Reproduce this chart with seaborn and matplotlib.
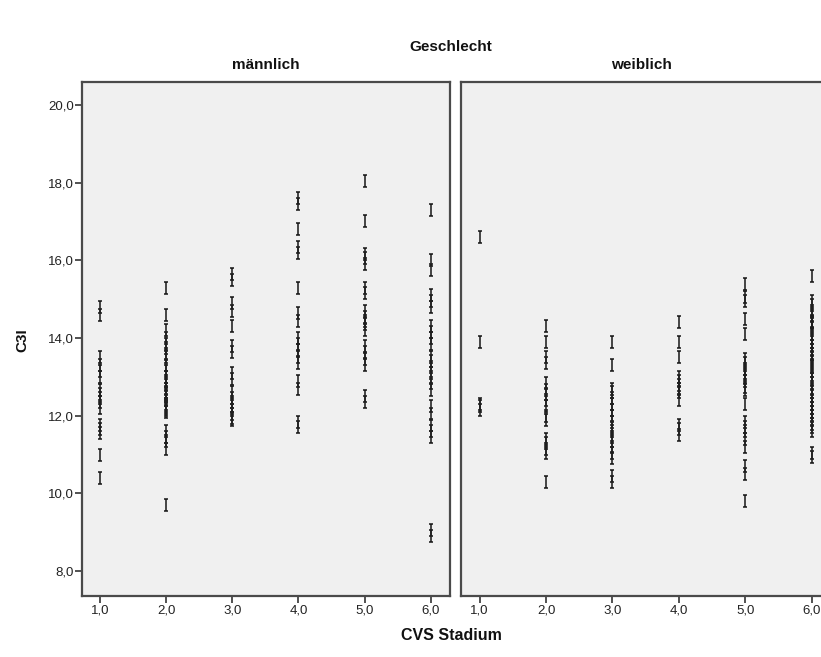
import numpy as np
import pandas as pd
import matplotlib
matplotlib.use("Agg")
import matplotlib.pyplot as plt
from matplotlib.path import Path
from matplotlib.ticker import FuncFormatter
import seaborn as sns

# ---------------- data ----------------
stages = [1.0, 2.0, 3.0, 4.0, 5.0, 6.0]
genders = ["männlich", "weiblich"]

male_1 = [14.8, 14.6, 13.5, 13.3, 13.15, 13.0, 12.65, 12.55, 12.45, 12.35, 12.2,
          11.75, 11.65, 11.55, 11.0, 10.4]
male_2 = [15.3, 14.6, 14.2, 14.0, 13.85, 13.75, 13.6, 13.5, 13.3, 13.15, 13.0, 12.9,
          12.8, 12.7, 12.6, 12.55, 12.5, 12.4, 12.3, 12.25, 12.2, 12.15, 12.1,
          11.6, 11.45, 11.35, 11.15, 9.7]
male_3 = [15.65, 15.5, 14.9, 14.7, 14.3, 13.8, 13.65, 13.1, 12.95, 12.6, 12.45,
          12.35, 12.25, 12.15, 12.05, 11.95, 11.9]
male_4 = [17.6, 17.45, 16.8, 16.35, 16.2, 15.3, 14.65, 14.45, 14.0, 13.85, 13.7,
          13.5, 13.35, 12.9, 12.7, 11.85, 11.7]
male_5 = [18.05, 17.0, 16.15, 16.05, 15.9, 15.3, 15.15, 14.7, 14.55, 14.45, 14.35,
          14.2, 13.8, 13.65, 13.45, 13.3, 12.5, 12.35]
male_6 = [17.3, 16.0, 15.75, 15.1, 14.95, 14.8, 14.3, 14.15, 14.0, 13.85, 13.5,
          13.4, 13.25, 13.1, 13.0, 12.85, 12.65, 12.25, 12.05, 11.75, 11.6,
          11.45, 9.05, 8.9]

female_1 = [16.6, 13.9, 12.3, 12.25, 12.15]
female_2 = [14.3, 13.9, 13.5, 13.35, 12.85, 12.65, 12.55, 12.4, 12.25, 12.0, 11.9,
            11.4, 11.3, 11.15, 11.05, 10.3]
female_3 = [13.9, 13.3, 12.7, 12.6, 12.45, 12.3, 12.15, 12.0, 11.85, 11.7, 11.6,
            11.45, 11.35, 11.2, 11.05, 10.9, 10.45, 10.3]
female_4 = [14.4, 13.9, 13.5, 13.0, 12.9, 12.8, 12.7, 12.6, 12.4, 11.75, 11.65,
            11.5]
female_5 = [15.4, 15.05, 14.95, 14.5, 14.1, 13.45, 13.35, 13.2, 13.1, 13.0, 12.9,
            12.75, 12.65, 12.3, 11.85, 11.7, 11.6, 11.4, 11.2, 10.7, 10.5, 9.8]
female_6 = [15.6, 14.95, 14.85, 14.7, 14.6, 14.45, 14.4, 14.35, 14.25, 14.1, 14.0,
            13.9, 13.8, 13.7, 13.6, 13.5, 13.4, 13.3, 13.25, 13.15, 13.05, 12.95,
            12.85, 12.7, 12.6, 12.5, 12.4, 12.3, 12.2, 12.1, 12.0, 11.9, 11.8,
            11.7, 11.6, 11.05, 10.95]

y_ticks = [8.0, 10.0, 12.0, 14.0, 16.0, 18.0, 20.0]

male_values = [male_1, male_2, male_3, male_4, male_5, male_6]
female_values = [female_1, female_2, female_3, female_4, female_5, female_6]

rows = []
for g, groups in zip(genders, [male_values, female_values]):
    for st, vals in zip(stages, groups):
        for v in vals:
            rows.append({"Geschlecht": g, "CVS Stadium": st, "C3I": v})
df = pd.DataFrame(rows)

# ---------------- style ----------------
sns.set_theme(style="white")
plt.rcParams["font.family"] = ["Liberation Sans", "DejaVu Sans"]

W, H = 821, 657
fig = plt.figure(figsize=(W / 100, H / 100), dpi=100)
fig.patch.set_facecolor("white")

# I-beam marker
ibeam = Path(
    [(0, -1), (0, 1), (-0.42, 1), (0.42, 1), (-0.42, -1), (0.42, -1)],
    [Path.MOVETO, Path.LINETO, Path.MOVETO, Path.LINETO, Path.MOVETO, Path.LINETO],
)

def px(x0, y0, x1, y1):
    return [x0 / W, 1 - y1 / H, (x1 - x0) / W, (y1 - y0) / H]

ax_m = fig.add_axes(px(82, 82, 450, 596))
ax_f = fig.add_axes(px(461, 82, 821, 596))

fmt = FuncFormatter(lambda v, p: f"{v:.1f}".replace(".", ","))

for ax, g in [(ax_m, "männlich"), (ax_f, "weiblich")]:
    sub = df[df["Geschlecht"] == g]
    sns.scatterplot(data=sub, x="CVS Stadium", y="C3I", ax=ax, marker=ibeam,
                    s=68, color="#1e1e1e", edgecolor="#1e1e1e",
                    linewidth=1.15, legend=False)
    ax.set_facecolor("#f0f0f0")
    ax.set_ylim(7.36, 20.59)
    ax.set_xticks(stages)
    ax.xaxis.set_major_formatter(fmt)
    ax.set_xlabel("")
    ax.set_ylabel("")
    ax.tick_params(axis="x", bottom=True, direction="out", length=5, width=1.2,
                   color="#333333", labelsize=9.5, pad=1, labelcolor="#222222")
    for sp in ax.spines.values():
        sp.set_color("#4a4a4a")
        sp.set_linewidth(1.6)
    ax.text(0.5, 1.02, g, transform=ax.transAxes, ha="center", va="bottom",
            fontsize=11, fontweight="bold", color="#111111")

ax_m.set_xlim(0.73, 6.29)
ax_f.set_xlim(0.72, 6.14)
ax_f.spines["right"].set_visible(False)

ax_m.set_yticks(y_ticks)
ax_m.yaxis.set_major_formatter(fmt)
ax_m.tick_params(axis="y", left=True, direction="out", length=5, width=1.2,
                 color="#333333", labelsize=9.5, pad=1, labelcolor="#222222")
ax_f.set_yticks(y_ticks)
ax_f.tick_params(axis="y", left=False, labelleft=False)

fig.text(451 / W, 1 - 47 / H, "Geschlecht", ha="center", va="center",
         fontsize=11, fontweight="bold", color="#111111")
fig.text(451 / W, 1 - 636 / H, "CVS Stadium", ha="center", va="center",
         fontsize=11.5, fontweight="bold", color="#111111")
fig.text(22 / W, 1 - 340 / H, "C3I", ha="center", va="center", rotation=90,
         fontsize=11, fontweight="bold", color="#111111")

fig.savefig("out.png", dpi=100, facecolor="white")
